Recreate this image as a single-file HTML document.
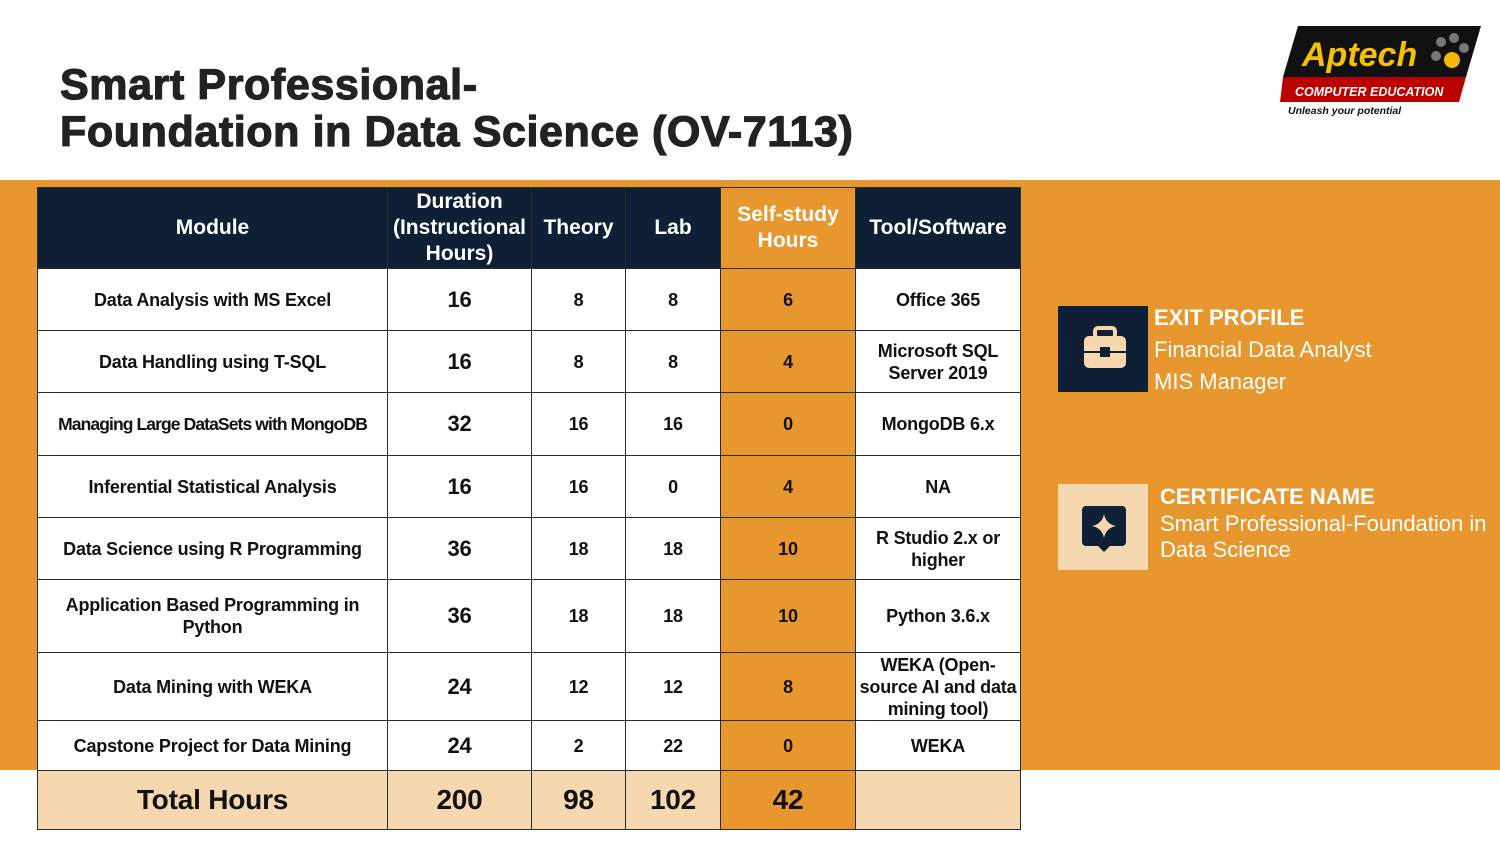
<!DOCTYPE html>
<html><head><meta charset="utf-8"><style>
*{margin:0;padding:0;box-sizing:border-box}
body{width:1500px;height:844px;position:relative;background:#fff;font-family:"Liberation Sans",sans-serif;overflow:hidden}
.band{position:absolute;left:0;top:180px;width:1500px;height:590px;background:#E8972F}
h1{position:absolute;left:60px;top:62px;font-size:43px;line-height:47px;font-weight:900;color:#222;letter-spacing:0.6px;-webkit-text-stroke:1.2px #222}
table{position:absolute;left:37px;top:187px;border-collapse:collapse;table-layout:fixed;width:983px}
td,th{border:1.5px solid #2b2b2b;text-align:center;vertical-align:middle;font-size:18px;font-weight:bold;color:#111;background:#fff;line-height:22px;letter-spacing:-0.2px}
th{background:#0E1F36;color:#fff;font-size:21px;line-height:26px;letter-spacing:0}
.ss{background:#E8972F}
th.ss{color:#fff;border-color:#2b2b2b}
.big{font-size:22px}
tr.tot td{background:#F5D8AF;font-size:28px;height:59px}
tr.tot td.ss{background:#E8972F}
.box{position:absolute;width:90px;height:86px}
.t{position:absolute;color:#fff;font-size:22px;line-height:32px}
.t b{font-size:22px}
</style></head><body>
<div class="band"></div>
<h1>Smart Professional-<br>Foundation in Data Science (OV-7113)</h1>
<svg style="position:absolute;left:1278px;top:24px" width="205" height="95">
<polygon points="20,2 203,2 188,53 5,53" fill="#111"/>
<polygon points="5,53 188,53 181,78 2,78" fill="#B00"/>
<text x="24" y="42" font-family="Liberation Sans" font-style="italic" font-weight="bold" font-size="34" fill="#F5C000">Aptech</text>
<circle cx="163" cy="18" r="5" fill="#777"/><circle cx="176" cy="14" r="5" fill="#777"/><circle cx="186" cy="24" r="5" fill="#777"/><circle cx="158" cy="32" r="5" fill="#777"/><ellipse cx="174" cy="36" rx="8" ry="8" fill="#F5B800"/>
<text x="17" y="72" font-family="Liberation Sans" font-style="italic" font-weight="bold" font-size="12.5" fill="#fff">COMPUTER EDUCATION</text>
<text x="10" y="90" font-family="Liberation Sans" font-style="italic" font-weight="bold" font-size="10.5" fill="#111">Unleash your potential</text>
</svg>
<table>
<colgroup><col style="width:350px"><col style="width:144px"><col style="width:94px"><col style="width:95px"><col style="width:135px"><col style="width:165px"></colgroup>
<tr style="height:81px"><th>Module</th><th>Duration (Instructional Hours)</th><th>Theory</th><th>Lab</th><th class="ss">Self-study Hours</th><th>Tool/Software</th></tr>
<tr style="height:62px"><td>Data Analysis with MS Excel</td><td class="big">16</td><td>8</td><td>8</td><td class="ss">6</td><td>Office 365</td></tr>
<tr style="height:62px"><td>Data Handling using T-SQL</td><td class="big">16</td><td>8</td><td>8</td><td class="ss">4</td><td>Microsoft SQL Server 2019</td></tr>
<tr style="height:63px"><td style="white-space:nowrap;letter-spacing:-0.9px;font-size:17.5px">Managing Large DataSets with MongoDB</td><td class="big">32</td><td>16</td><td>16</td><td class="ss">0</td><td>MongoDB 6.x</td></tr>
<tr style="height:62px"><td>Inferential Statistical Analysis</td><td class="big">16</td><td>16</td><td>0</td><td class="ss">4</td><td>NA</td></tr>
<tr style="height:62px"><td>Data Science using R Programming</td><td class="big">36</td><td>18</td><td>18</td><td class="ss">10</td><td>R Studio 2.x or higher</td></tr>
<tr style="height:73px"><td>Application Based Programming in<br>Python</td><td class="big">36</td><td>18</td><td>18</td><td class="ss">10</td><td>Python 3.6.x</td></tr>
<tr style="height:68px"><td>Data Mining with WEKA</td><td class="big">24</td><td>12</td><td>12</td><td class="ss">8</td><td>WEKA (Open-source AI and data mining tool)</td></tr>
<tr style="height:50px"><td>Capstone Project for Data Mining</td><td class="big">24</td><td>2</td><td>22</td><td class="ss">0</td><td>WEKA</td></tr>
<tr class="tot"><td>Total Hours</td><td>200</td><td>98</td><td>102</td><td class="ss">42</td><td></td></tr>
</table>
<div class="box" style="left:1058px;top:306px;background:#0E1F36"><svg width="90" height="86"><rect x="26" y="30" width="42" height="32" rx="5" fill="#F5D8AF"/><rect x="37" y="22" width="20" height="10" rx="3" fill="none" stroke="#F5D8AF" stroke-width="4"/><line x1="26" y1="46" x2="68" y2="46" stroke="#0E1F36" stroke-width="2"/><rect x="42" y="41" width="10" height="10" fill="#0E1F36"/></svg></div>
<div class="t" style="left:1154px;top:302px"><b>EXIT PROFILE</b><br>Financial Data Analyst<br>MIS Manager</div>
<div class="box" style="left:1058px;top:484px;background:#F5D8AF"><svg width="90" height="86"><rect x="24" y="22" width="44" height="40" rx="4" fill="#0E1F36"/><polygon points="40,62 52,62 46,68" fill="#0E1F36"/><path d="M46 30 Q48 40 58 42 Q48 44 46 54 Q44 44 34 42 Q44 40 46 30Z" fill="#F5D8AF"/></svg></div>
<div class="t" style="left:1160px;top:484px;line-height:26.5px"><b>CERTIFICATE NAME</b><br>Smart Professional-Foundation in<br>Data Science</div>
</body></html>
